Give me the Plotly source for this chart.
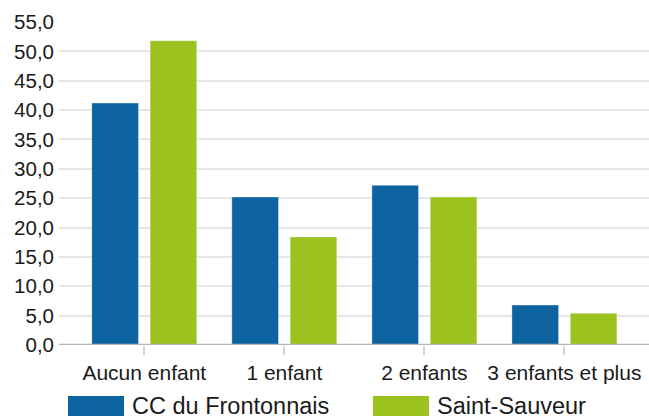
import plotly.graph_objects as go

categories = ["Aucun enfant", "1 enfant", "2 enfants", "3 enfants et plus"]
cc_values = [41.2, 25.2, 27.2, 6.8]
ss_values = [51.8, 18.4, 25.2, 5.4]
series_names = ["CC du Frontonnais", "Saint-Sauveur"]
colors = ["#0d62a0", "#9bc21f"]
y_ticks = [0, 5, 10, 15, 20, 25, 30, 35, 40, 45, 50, 55]

FONT = "Liberation Sans, Arial, sans-serif"

fig = go.Figure()
for name, vals, col in zip(series_names, [cc_values, ss_values], colors):
    fig.add_trace(go.Bar(
        x=list(range(len(categories))), y=vals, name=name,
        marker=dict(color=col, line=dict(color="rgba(255,255,255,0.35)", width=1)),
        showlegend=False,
    ))

fig.update_layout(
    width=649, height=416,
    margin=dict(l=59, r=0, t=22, b=71),
    paper_bgcolor="white", plot_bgcolor="white",
    barmode="group", bargap=0.167, bargroupgap=0.2,
    separators=", ",
    font=dict(family=FONT, size=21, color="#1a1a1a"),
    xaxis=dict(
        range=[-0.609, 3.604], tickmode="array",
        tickvals=list(range(len(categories))), ticktext=categories,
        ticks="outside", ticklen=9, tickcolor="#d4d4d4", tickwidth=1.5,
        showgrid=False, zeroline=False, showline=False,
        tickfont=dict(family=FONT, size=21, color="#1a1a1a"),
    ),
    yaxis=dict(
        range=[0, 55], tickmode="array", tickvals=y_ticks,
        tickformat=".1f", showgrid=True, gridcolor="#e6e6e6", gridwidth=2,
        zeroline=False, showline=False, ticks="", ticklabelstandoff=4,
        tickfont=dict(family=FONT, size=20.5, color="#1a1a1a"),
    ),
)

# baseline
fig.add_shape(type="line", xref="paper", yref="y", x0=0, x1=1, y0=0, y1=0,
              line=dict(color="#b4b4b4", width=2.5), layer="above")

# custom legend (pixel -> paper conversion: plot area x 59..649, y 22..345)
def px_x(v):
    return (v - 59) / 590

def px_y(v):
    return (345 - v) / 323

legend_x = [68, 373]
for i, (name, col) in enumerate(zip(series_names, colors)):
    fig.add_shape(type="rect", xref="paper", yref="paper",
                  x0=px_x(legend_x[i]), x1=px_x(legend_x[i] + 56),
                  y0=px_y(396), y1=px_y(418),
                  fillcolor=col, line=dict(width=0))
    fig.add_annotation(xref="paper", yref="paper", x=px_x(legend_x[i] + 62),
                       y=px_y(405.5), text=name, showarrow=False,
                       xanchor="left", yanchor="middle",
                       font=dict(family=FONT, size=23.5, color="#1a1a1a"))

fig.write_html("out.html", config={"displayModeBar": False},
               post_script="document.body.style.margin='0';document.body.style.overflow='hidden';")
